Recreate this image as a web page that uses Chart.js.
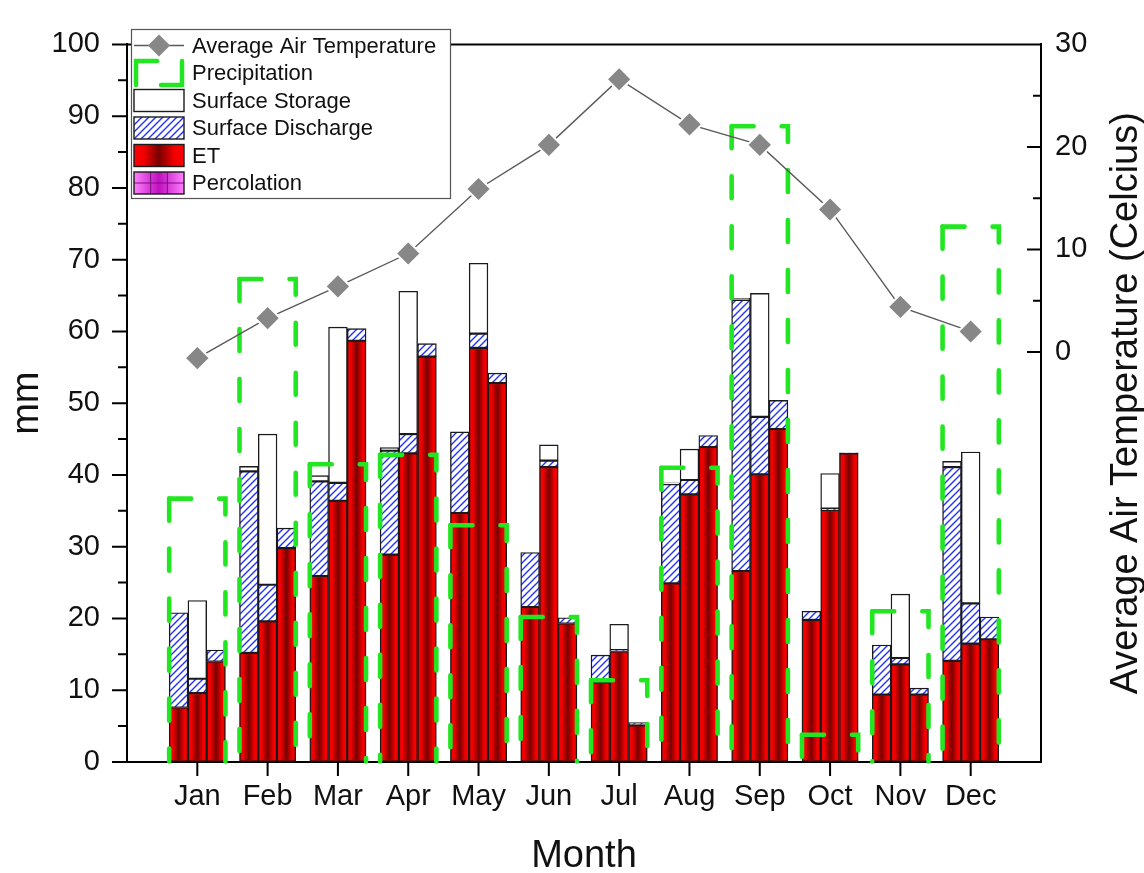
<!DOCTYPE html>
<html>
<head>
<meta charset="utf-8">
<script src="https://cdn.jsdelivr.net/npm/chart.js@4.4.1/dist/chart.umd.min.js"></script>
<style>
  html, body { margin: 0; padding: 0; background: #ffffff; }
  canvas { display: block; }
</style>
</head>
<body>
<canvas id="c" width="1144" height="873"></canvas>
<script>
// ---- data ----
const months = ['Jan','Feb','Mar','Apr','May','Jun','Jul','Aug','Sep','Oct','Nov','Dec'];
const monthPos = [1,2,3,4,5,6,7,8,9,10,11,12];
const mmTicks = [0,10,20,30,40,50,60,70,80,90,100];
const tempTicks = [0,10,20,30];

const temperature   = [-0.6, 3.3, 6.4, 9.6, 15.9, 20.2, 26.6, 22.2, 20.2, 13.9, 4.4, 2.0];
const precipitation = [36.7, 67.3, 41.5, 42.8, 33.0, 20.2, 11.4, 41.0, 88.6, 3.8, 21.0, 74.6];

// first bar of each month
const etA        = [7.6, 15.2, 25.9, 28.9, 34.7, 21.6, 11.1, 24.9, 26.6, 19.8, 9.4, 14.1];
const dischargeA = [13.2, 25.3, 13.2, 14.5, 11.3, 7.6, 3.8, 13.8, 37.8, 1.2, 6.9, 27.0];
const storageA   = [0, 0.7, 0.8, 0.4, 0, 0, 0, 0.2, 0.2, 0, 0, 0.8];
// second bar of each month
const etB        = [9.6, 19.6, 36.4, 43.0, 57.7, 41.1, 15.4, 37.3, 40.1, 35.1, 13.6, 16.5];
const dischargeB = [2.0, 5.1, 2.5, 2.7, 2.0, 0.9, 0.2, 2.0, 8.0, 0.2, 0.9, 5.6];
const storageB   = [10.9, 21.0, 21.7, 19.9, 9.8, 2.2, 3.6, 4.3, 17.2, 4.9, 8.9, 21.1];
// third bar of each month
const etC        = [14.0, 29.8, 58.7, 56.5, 52.8, 19.3, 5.1, 43.9, 46.4, 43.0, 9.4, 17.1];
const dischargeC = [1.6, 2.8, 1.7, 1.8, 1.4, 0.8, 0.4, 1.6, 4.0, 0.1, 0.9, 3.1];
const storageC   = [0, 0, 0, 0, 0, 0, 0, 0, 0, 0, 0, 0];

const legendLabels = ['Average Air Temperature', 'Precipitation', 'Surface Storage',
                      'Surface Discharge', 'ET', 'Percolation'];

// ---- layout of the three bars inside a month (in x-axis units) ----
const GROUP_WIDTH = 0.8;
const SLOT = GROUP_WIDTH / 3;
const slotShift = { A: -SLOT, B: 0, C: SLOT };

// ---- styling helpers ----
const FONT = "'Liberation Sans', Arial, Helvetica, sans-serif";
Chart.defaults.font.family = FONT;
Chart.defaults.color = '#111';

const GREEN = '#22e622';
const BAR_BORDER = '#1a1a1a';
const BAR_BW = 1.4;

const canvas = document.getElementById('c');
const baseCtx = canvas.getContext('2d');

function makeHatch() {
  const s = 7;
  const t = document.createElement('canvas');
  t.width = s; t.height = s;
  const g = t.getContext('2d');
  g.fillStyle = '#ffffff';
  g.fillRect(0, 0, s, s);
  g.strokeStyle = '#2030ff';
  g.lineWidth = 1.4;
  g.beginPath();
  g.moveTo(0, s); g.lineTo(s, 0);
  g.moveTo(-s / 2, s / 2); g.lineTo(s / 2, -s / 2);
  g.moveTo(s / 2, s * 1.5); g.lineTo(s * 1.5, s / 2);
  g.stroke();
  return baseCtx.createPattern(t, 'repeat');
}
const hatch = makeHatch();

function redGradient(ctx, x0, x1) {
  const gr = ctx.createLinearGradient(x0, 0, x1, 0);
  gr.addColorStop(0, '#ff0000');
  gr.addColorStop(0.2, '#f00000');
  gr.addColorStop(0.5, '#780000');
  gr.addColorStop(0.8, '#f00000');
  gr.addColorStop(1, '#ff0000');
  return gr;
}

function toPoints(values, shift) {
  return values.map((v, i) => ({ x: monthPos[i] + (shift || 0), y: v }));
}

function segment(label, values, stack, kind) {
  return {
    type: 'bar',
    label: label,
    kind: kind,
    stack: stack,
    grouped: false,
    data: toPoints(values, slotShift[stack]),
    backgroundColor: kind === 'et' ? '#c00000' : (kind === 'dis' ? hatch : '#ffffff'),
    borderColor: BAR_BORDER,
    borderWidth: BAR_BW,
    borderSkipped: false,
    categoryPercentage: 1.0,
    barPercentage: 1.0,
    xAxisID: 'x',
    yAxisID: 'y',
    order: 2
  };
}

const datasets = [
  {
    type: 'line',
    label: 'Average Air Temperature',
    data: toPoints(temperature),
    xAxisID: 'x',
    yAxisID: 'y2',
    borderColor: '#5a5a5a',
    borderWidth: 1.4,
    tension: 0,
    pointStyle: 'rectRot',
    pointRadius: 12.5,
    pointBackgroundColor: '#878787',
    pointBorderColor: '#ffffff',
    pointBorderWidth: 2,
    order: 0
  },
  {
    // the precipitation box spans all three bars of its month
    type: 'bar',
    label: 'Precipitation',
    kind: 'precip',
    stack: 'P',
    grouped: false,
    data: toPoints(precipitation),
    xAxisID: 'x',
    yAxisID: 'y',
    backgroundColor: 'rgba(0,0,0,0)',
    borderWidth: 0,
    categoryPercentage: 1.0,
    barPercentage: 3.0,
    order: 1
  },
  segment('ET', etA, 'A', 'et'),
  segment('Surface Discharge', dischargeA, 'A', 'dis'),
  segment('Surface Storage', storageA, 'A', 'sto'),
  segment('ET', etB, 'B', 'et'),
  segment('Surface Discharge', dischargeB, 'B', 'dis'),
  segment('Surface Storage', storageB, 'B', 'sto'),
  segment('ET', etC, 'C', 'et'),
  segment('Surface Discharge', dischargeC, 'C', 'dis'),
  segment('Surface Storage', storageC, 'C', 'sto')
];

// ---- custom drawing: gradient fills, dashed precipitation boxes, ticks, legend ----
function drawLegend(ctx) {
  const L = 131, T = 29, R = 450, B = 198;
  ctx.save();
  ctx.fillStyle = '#ffffff';
  ctx.fillRect(L, T, R - L, B - T);
  ctx.strokeStyle = '#555555';
  ctx.lineWidth = 1.2;
  ctx.strokeRect(L + 0.5, T + 0.5, R - L, B - T);

  const rows = [45.5, 73, 100.5, 128, 155.5, 183];
  const x0 = 134, x1 = 184, h = 22;

  // temperature
  let y = rows[0];
  ctx.strokeStyle = '#5a5a5a'; ctx.lineWidth = 1.4;
  ctx.beginPath(); ctx.moveTo(x0, y); ctx.lineTo(x1, y); ctx.stroke();
  ctx.fillStyle = '#878787';
  ctx.beginPath();
  ctx.moveTo(159 - 11, y); ctx.lineTo(159, y - 11); ctx.lineTo(159 + 11, y); ctx.lineTo(159, y + 11);
  ctx.closePath(); ctx.fill();

  // precipitation
  y = rows[1];
  ctx.strokeStyle = GREEN; ctx.lineWidth = 4.5; ctx.lineCap = 'round';
  ctx.beginPath(); ctx.moveTo(x0 + 2, y + 12); ctx.lineTo(x0 + 2, y - 12); ctx.lineTo(157, y - 12); ctx.stroke();
  ctx.beginPath(); ctx.moveTo(x1 - 2, y - 12); ctx.lineTo(x1 - 2, y + 12); ctx.lineTo(161, y + 12); ctx.stroke();
  ctx.lineCap = 'butt';

  // storage
  y = rows[2];
  ctx.fillStyle = '#ffffff'; ctx.fillRect(x0, y - h / 2, x1 - x0, h);
  ctx.strokeStyle = BAR_BORDER; ctx.lineWidth = 1.4; ctx.strokeRect(x0, y - h / 2, x1 - x0, h);

  // discharge
  y = rows[3];
  ctx.fillStyle = hatch; ctx.fillRect(x0, y - h / 2, x1 - x0, h);
  ctx.strokeRect(x0, y - h / 2, x1 - x0, h);

  // ET
  y = rows[4];
  ctx.fillStyle = redGradient(ctx, x0, x1); ctx.fillRect(x0, y - h / 2, x1 - x0, h);
  ctx.strokeRect(x0, y - h / 2, x1 - x0, h);

  // percolation
  y = rows[5];
  const pg = ctx.createLinearGradient(x0, 0, x1, 0);
  pg.addColorStop(0, '#ff80ff'); pg.addColorStop(0.5, '#c010c0'); pg.addColorStop(1, '#ff80ff');
  ctx.fillStyle = pg; ctx.fillRect(x0, y - h / 2, x1 - x0, h);
  ctx.strokeStyle = '#7a107a'; ctx.lineWidth = 1;
  ctx.beginPath();
  const w3 = (x1 - x0) / 3;
  ctx.moveTo(x0 + w3, y - h / 2); ctx.lineTo(x0 + w3, y + h / 2);
  ctx.moveTo(x0 + 2 * w3, y - h / 2); ctx.lineTo(x0 + 2 * w3, y + h / 2);
  ctx.moveTo(x0, y); ctx.lineTo(x1, y);
  ctx.stroke();
  ctx.strokeStyle = BAR_BORDER; ctx.lineWidth = 1.4;
  ctx.strokeRect(x0, y - h / 2, x1 - x0, h);

  // labels
  ctx.fillStyle = '#111';
  ctx.font = '22px ' + FONT;
  ctx.textAlign = 'left';
  ctx.textBaseline = 'middle';
  legendLabels.forEach((t, i) => ctx.fillText(t, 192, rows[i] + 1));
  ctx.restore();
}

const decor = {
  id: 'decor',
  afterDatasetDraw(chart, args) {
    const ds = chart.data.datasets[args.index];
    const ctx = chart.ctx;
    if (ds.kind === 'et') {
      ctx.save();
      args.meta.data.forEach(el => {
        const p = el.getProps(['x', 'y', 'base', 'width'], true);
        const l = p.x - p.width / 2, r = p.x + p.width / 2;
        const top = Math.min(p.y, p.base), bot = Math.max(p.y, p.base);
        if (bot - top <= 2 * BAR_BW) return;
        ctx.fillStyle = redGradient(ctx, l, r);
        ctx.fillRect(l + BAR_BW, top + BAR_BW, p.width - 2 * BAR_BW, bot - top - 2 * BAR_BW);
      });
      ctx.restore();
    }
    if (ds.kind === 'precip') {
      ctx.save();
      ctx.strokeStyle = GREEN;
      ctx.lineWidth = 4.6;
      ctx.lineCap = 'round';
      ctx.setLineDash([22, 28]);
      args.meta.data.forEach(el => {
        const p = el.getProps(['x', 'y', 'base', 'width'], true);
        const l = p.x - p.width / 2, r = p.x + p.width / 2;
        ctx.beginPath(); ctx.moveTo(l, p.y); ctx.lineTo(r, p.y); ctx.lineTo(r, p.base); ctx.stroke();
        ctx.beginPath(); ctx.moveTo(l, p.y); ctx.lineTo(l, p.base); ctx.stroke();
      });
      ctx.restore();
    }
  },
  afterDraw(chart) {
    const ctx = chart.ctx;
    const a = chart.chartArea;
    const sy = chart.scales.y, sy2 = chart.scales.y2, sx = chart.scales.x;
    ctx.save();
    ctx.strokeStyle = '#000';
    ctx.lineWidth = 2;
    ctx.beginPath();
    // top frame
    ctx.moveTo(a.left - 1, a.top); ctx.lineTo(a.right + 1, a.top);
    // left axis: major and minor ticks, outward
    for (let v = 0; v <= 100; v += 5) {
      const py = sy.getPixelForValue(v);
      const len = v % 10 === 0 ? 15 : 9;
      ctx.moveTo(a.left - len, py); ctx.lineTo(a.left, py);
    }
    // right axis: ticks pointing inward
    for (let v = 0; v <= 30; v += 5) {
      const py = sy2.getPixelForValue(v);
      const len = v % 10 === 0 ? 14 : 8;
      ctx.moveTo(a.right - len, py); ctx.lineTo(a.right, py);
    }
    // x axis ticks
    monthPos.forEach(m => {
      const px = sx.getPixelForValue(m);
      ctx.moveTo(px, a.bottom); ctx.lineTo(px, a.bottom + 14);
    });
    ctx.stroke();

    // right axis title, reading bottom to top
    ctx.fillStyle = '#111';
    ctx.font = '38px ' + FONT;
    ctx.textAlign = 'center';
    ctx.textBaseline = 'alphabetic';
    ctx.translate(1137, (a.top + a.bottom) / 2);
    ctx.rotate(-Math.PI / 2);
    ctx.fillText('Average Air Temperature (Celcius)', 0, 0);
    ctx.restore();

    drawLegend(ctx);
  }
};

const axisGrid = { display: true, drawOnChartArea: false, drawTicks: false };
const axisBorder = { display: true, color: '#000', width: 2 };

new Chart(canvas, {
  type: 'bar',
  data: { datasets: datasets },
  plugins: [decor],
  options: {
    responsive: false,
    animation: false,
    devicePixelRatio: 1,
    events: [],
    layout: { padding: { top: 24, left: 0, right: 0, bottom: 0 } },
    plugins: { legend: { display: false }, tooltip: { enabled: false } },
    scales: {
      x: {
        type: 'linear', position: 'bottom', min: 0, max: 13, offset: false,
        afterBuildTicks: s => { s.ticks = monthPos.map(v => ({ value: v })); },
        afterFit: s => { s.height = 111; },
        ticks: {
          callback: v => months[v - 1] || '',
          font: { size: 29 }, color: '#111', padding: 18,
          maxRotation: 0, autoSkip: false
        },
        grid: axisGrid,
        border: axisBorder,
        title: {
          display: true, text: 'Month', color: '#111',
          font: { size: 38, lineHeight: 0.85 }, padding: { top: 0, bottom: 0 }
        }
      },
      y: {
        type: 'linear', position: 'left', min: 0, max: 100, stacked: true,
        afterBuildTicks: s => { s.ticks = mmTicks.map(v => ({ value: v })); },
        afterFit: s => { s.width = 127; },
        ticks: { font: { size: 29 }, color: '#111', padding: 27 },
        grid: axisGrid,
        border: axisBorder,
        title: {
          display: true, text: 'mm', color: '#111',
          font: { size: 38 }, padding: { top: 5, bottom: 0 }
        }
      },
      y2: {
        type: 'linear', position: 'right', min: -40, max: 30, stacked: false,
        afterBuildTicks: s => { s.ticks = tempTicks.map(v => ({ value: v })); },
        afterFit: s => { s.width = 103; },
        ticks: { font: { size: 29 }, color: '#111', padding: 14 },
        grid: axisGrid,
        border: axisBorder,
        title: { display: false }
      }
    }
  }
});
</script>
</body>
</html>
